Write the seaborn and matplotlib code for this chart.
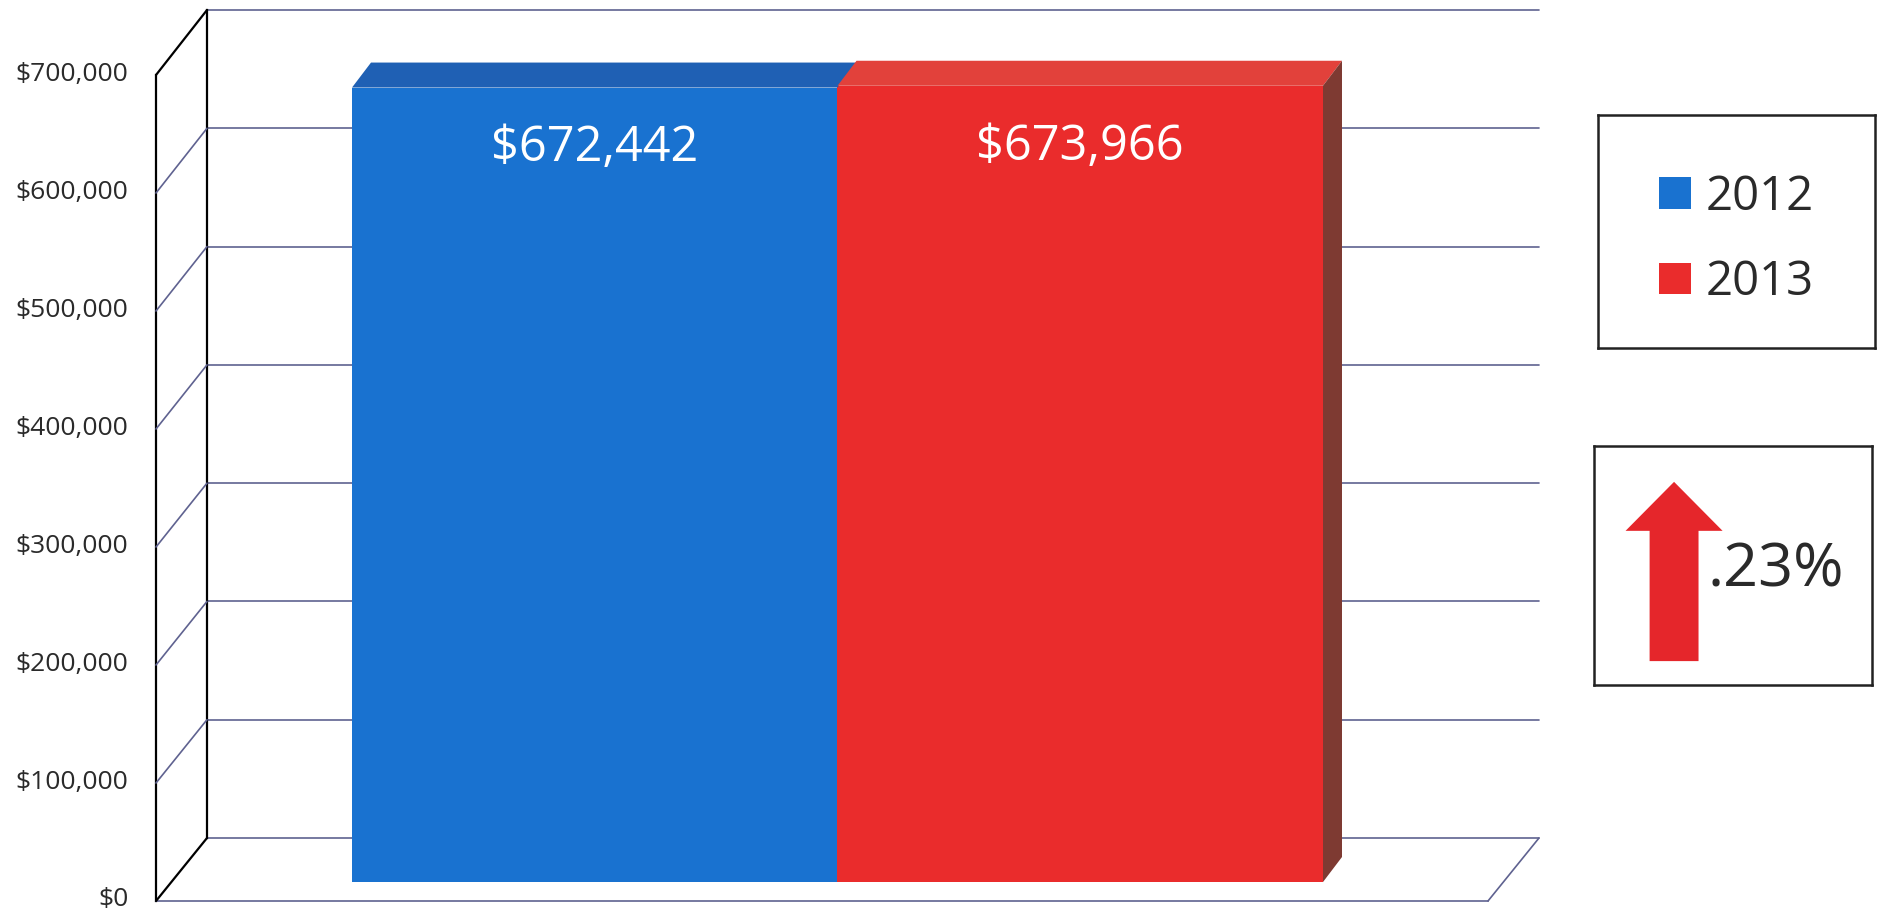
import pandas as pd
import seaborn as sns
import matplotlib.pyplot as plt
from matplotlib.patches import Patch, Polygon, ConnectionPatch
from matplotlib.transforms import ScaledTranslation

# data
years = ['2012', '2013']
totals = [672442, 673966]
change_text = '.23%'
tick_values = [0, 100000, 200000, 300000, 400000, 500000, 600000, 700000]
tick_labels = ['$0', '$100,000', '$200,000', '$300,000',
               '$400,000', '$500,000', '$600,000', '$700,000']

# colours
front_colors = ['#1972d0', '#ea2c2c']
top_colors = ['#1f60b4', '#e2413b']
side_color = '#7e3a32'
grid_color = '#5f6290'
text_color = '#2a2a2a'

W, H = 1881, 914


def px_box(x0, y0, x1, y1):
    # pixel box (origin top-left) -> figure fraction rect
    return [x0 / W, 1 - y1 / H, (x1 - x0) / W, (y1 - y0) / H]


sns.set_style('white')
plt.rcParams['font.family'] = ['Open Sans', 'DejaVu Sans']

fig = plt.figure(figsize=(W / 100, H / 100), dpi=100)

# back wall + grid
ax_back = fig.add_axes(px_box(207, 10, 1539, 838))
ax_back.set_xlim(0, 1)
ax_back.set_ylim(0, 700000)
for v in tick_values:
    ax_back.axhline(v, color=grid_color, lw=1.2, clip_on=False)
for s in ['top', 'right', 'bottom']:
    ax_back.spines[s].set_visible(False)
ax_back.spines['left'].set_color('black')
ax_back.spines['left'].set_linewidth(1.6)
ax_back.set_xticks([])
ax_back.set_yticks([])

# bars (front faces)
ax_bar = fig.add_axes(px_box(352, 55, 1323, 882))
df = pd.DataFrame({'year': years, 'total': totals})
sns.barplot(data=df, x='year', y='total', hue='year', palette=front_colors,
            width=1.0, saturation=1, legend=False, edgecolor='none', ax=ax_bar)
ax_bar.set_xlim(-0.5, 1.5)
ax_bar.set_ylim(0, 700000)
ax_bar.set_axis_off()

# fake depth: top faces and right side face
dx, dy = 19, 25
to_data = ax_bar.transData.inverted()
bars = list(ax_bar.patches)
for i, bar in enumerate(bars):
    x0, x1 = bar.get_x(), bar.get_x() + bar.get_width()
    h = bar.get_height()
    (X0, Y), (X1, _) = ax_bar.transData.transform([(x0, h), (x1, h)])
    top = to_data.transform([(X0, Y), (X1, Y), (X1 + dx, Y + dy), (X0 + dx, Y + dy)])
    ax_bar.add_patch(Polygon(top, closed=True, fc=top_colors[i], ec='none', clip_on=False))

last = bars[-1]
x1 = last.get_x() + last.get_width()
(X1, Yb), (_, Yt) = ax_bar.transData.transform([(x1, 0), (x1, last.get_height())])
side = to_data.transform([(X1, Yb), (X1, Yt), (X1 + dx, Yt + dy), (X1 + dx, Yb + dy)])
ax_bar.add_patch(Polygon(side, closed=True, fc=side_color, ec='none', clip_on=False))

for i, v in enumerate(totals):
    ax_bar.annotate(f'${v:,}', (i, v), xytext=(0, -44), textcoords='offset points',
                    ha='center', va='center', color='white', fontsize=35)

# front plane: y axis and floor edge
ax_front = fig.add_axes(px_box(156, 75, 1488, 901))
ax_front.set_facecolor('none')
ax_front.set_xlim(0, 1)
ax_front.set_ylim(0, 700000)
ax_front.set_xticks([])
ax_front.set_yticks(tick_values, tick_labels)
ax_front.tick_params(axis='y', length=0, pad=20, labelsize=19, labelcolor=text_color)
# nudge labels up a little so "$0" stays inside the picture
nudge = ScaledTranslation(0, 4 / 100, fig.dpi_scale_trans)
for lab in ax_front.get_yticklabels():
    lab.set_transform(lab.get_transform() + nudge)
for s in ['top', 'right']:
    ax_front.spines[s].set_visible(False)
ax_front.spines['left'].set_color('black')
ax_front.spines['left'].set_linewidth(1.6)
ax_front.spines['bottom'].set_color(grid_color)
ax_front.spines['bottom'].set_linewidth(1.2)

# side wall lines joining front axis to back wall
for v in tick_values:
    col = 'black' if v in (tick_values[0], tick_values[-1]) else grid_color
    fig.add_artist(ConnectionPatch(xyA=(0, v), coordsA='data', axesA=ax_front,
                                   xyB=(0, v), coordsB='data', axesB=ax_back,
                                   color=col, lw=1.6 if col == 'black' else 1.2))
fig.add_artist(ConnectionPatch(xyA=(1, 0), coordsA='data', axesA=ax_front,
                               xyB=(1, 0), coordsB='data', axesB=ax_back,
                               color=grid_color, lw=1.2))

# legend box
ax_leg = fig.add_axes(px_box(1598, 115, 1875, 348))
ax_leg.set_xticks([])
ax_leg.set_yticks([])
for s in ax_leg.spines.values():
    s.set_color('#222222')
    s.set_linewidth(1.8)
handles = [Patch(facecolor=c, edgecolor='none') for c in front_colors]
ax_leg.legend(handles, years, loc='center', bbox_to_anchor=(0.5, 0.465), frameon=False,
              fontsize=34, handlelength=0.68, handleheight=0.66, handletextpad=0.3,
              labelspacing=0.8, labelcolor=text_color)

# change box with arrow
ax_chg = fig.add_axes(px_box(1594, 446, 1872, 685))
ax_chg.set_xlim(0, 1)
ax_chg.set_ylim(0, 1)
ax_chg.set_xticks([])
ax_chg.set_yticks([])
for s in ax_chg.spines.values():
    s.set_color('#222222')
    s.set_linewidth(1.8)
ax_chg.arrow(0.288, 0.10, 0, 0.75, width=0.176, head_width=0.349, head_length=0.205,
             length_includes_head=True, fc='#e5262b', ec='none')
ax_chg.text(0.41, 0.48, change_text, ha='left', va='center', fontsize=44, color=text_color)

fig.savefig('out.png', dpi=100)
